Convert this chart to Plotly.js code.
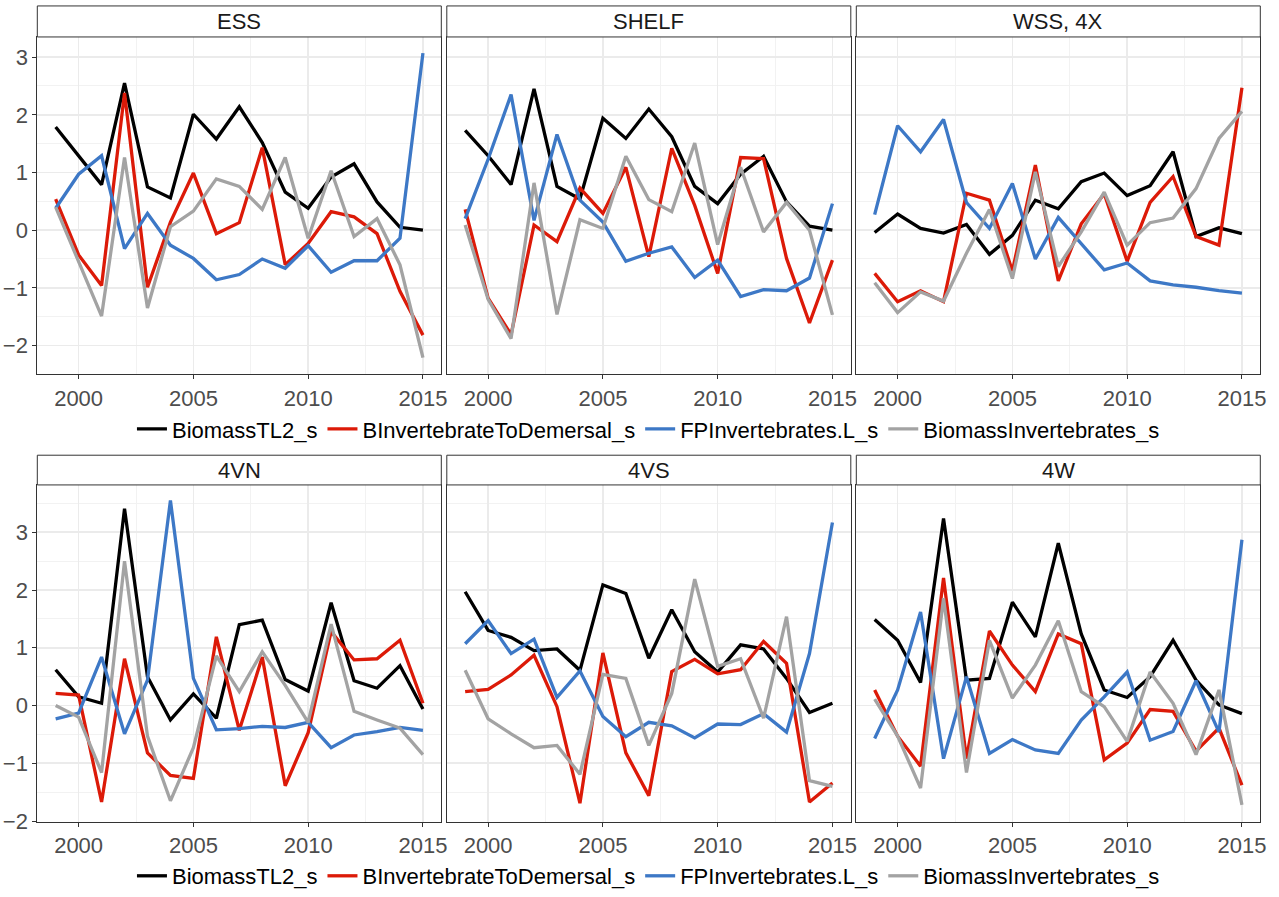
<!DOCTYPE html>
<html>
<head>
<meta charset="utf-8">
<script src="https://cdn.plot.ly/plotly-3.0.1.min.js"></script>
<style>
  html, body { margin: 0; padding: 0; background: #ffffff; }
  #chart { width: 1279px; height: 897px; }
</style>
</head>
<body>
<div id="chart"></div>
<script>
// ---------- data ----------
const years = [1999, 2000, 2001, 2002, 2003, 2004, 2005, 2006, 2007, 2008, 2009, 2010, 2011, 2012, 2013, 2014, 2015];
const seriesNames = ["BiomassTL2_s", "BInvertebrateToDemersal_s", "FPInvertebrates.L_s", "BiomassInvertebrates_s"];
const seriesColors = ["#000000", "#dc1a08", "#3d78c6", "#a3a3a3"];
const panelNames = ["ESS", "SHELF", "WSS, 4X", "4VN", "4VS", "4W"];

// ESS
const essTL2   = [1.79, 1.30, 0.79, 2.55, 0.75, 0.56, 2.01, 1.58, 2.14, 1.52, 0.66, 0.38, 0.92, 1.15, 0.49, 0.05, 0.00];
const essBInvD = [0.54, -0.43, -0.96, 2.38, -0.99, 0.14, 0.99, -0.06, 0.13, 1.43, -0.60, -0.23, 0.32, 0.23, -0.06, -1.06, -1.82];
const essFPInv = [0.38, 0.97, 1.29, -0.32, 0.29, -0.26, -0.49, -0.86, -0.77, -0.50, -0.66, -0.27, -0.73, -0.53, -0.53, -0.14, 3.07];
const essBInv  = [0.40, -0.54, -1.49, 1.26, -1.35, 0.06, 0.33, 0.89, 0.76, 0.36, 1.26, -0.14, 1.03, -0.11, 0.20, -0.60, -2.21];
// SHELF
const shelfTL2   = [1.73, 1.29, 0.79, 2.45, 0.76, 0.54, 1.94, 1.59, 2.10, 1.62, 0.76, 0.46, 0.97, 1.28, 0.49, 0.07, 0.00];
const shelfBInvD = [0.36, -1.18, -1.81, 0.09, -0.20, 0.73, 0.29, 1.09, -0.46, 1.42, 0.43, -0.75, 1.26, 1.24, -0.49, -1.61, -0.52];
const shelfFPInv = [0.20, 1.23, 2.35, 0.17, 1.66, 0.52, 0.14, -0.54, -0.40, -0.29, -0.82, -0.52, -1.15, -1.03, -1.05, -0.83, 0.46];
const shelfBInv  = [0.09, -1.20, -1.88, 0.82, -1.46, 0.18, 0.03, 1.28, 0.53, 0.32, 1.51, -0.25, 1.09, -0.03, 0.48, 0.00, -1.47];
// WSS, 4X
const wssTL2   = [-0.04, 0.28, 0.03, -0.05, 0.10, -0.42, -0.09, 0.52, 0.37, 0.84, 0.99, 0.60, 0.77, 1.36, -0.11, 0.04, -0.06];
const wssBInvD = [-0.75, -1.24, -1.05, -1.24, 0.64, 0.52, -0.71, 1.13, -0.88, 0.11, 0.63, -0.54, 0.48, 0.93, -0.11, -0.26, 2.47];
const wssFPInv = [0.27, 1.81, 1.36, 1.92, 0.48, 0.03, 0.81, -0.50, 0.22, -0.24, -0.69, -0.57, -0.88, -0.95, -0.99, -1.05, -1.09];
const wssBInv  = [-0.91, -1.43, -1.07, -1.23, -0.40, 0.36, -0.84, 1.01, -0.63, -0.03, 0.66, -0.26, 0.13, 0.21, 0.72, 1.59, 2.06];
// 4VN
const vnTL2   = [0.62, 0.15, 0.04, 3.41, 0.50, -0.25, 0.20, -0.22, 1.40, 1.48, 0.45, 0.25, 1.78, 0.43, 0.30, 0.69, -0.06];
const vnBInvD = [0.21, 0.18, -1.67, 0.81, -0.82, -1.21, -1.26, 1.19, -0.43, 0.84, -1.39, -0.47, 1.28, 0.79, 0.81, 1.13, 0.04];
const vnFPInv = [-0.23, -0.13, 0.84, -0.49, 0.44, 3.55, 0.47, -0.42, -0.40, -0.36, -0.38, -0.29, -0.73, -0.51, -0.45, -0.38, -0.43];
const vnBInv  = [0.00, -0.20, -1.16, 2.50, -0.53, -1.65, -0.73, 0.86, 0.24, 0.93, 0.35, -0.29, 1.41, -0.10, -0.25, -0.39, -0.85];
// 4VS
const vsTL2   = [1.97, 1.30, 1.18, 0.95, 0.98, 0.61, 2.09, 1.94, 0.82, 1.66, 0.93, 0.58, 1.05, 0.98, 0.47, -0.12, 0.04];
const vsBInvD = [0.24, 0.28, 0.53, 0.87, -0.02, -1.69, 0.91, -0.82, -1.56, 0.59, 0.80, 0.55, 0.62, 1.11, 0.73, -1.67, -1.34];
const vsFPInv = [1.07, 1.47, 0.90, 1.15, 0.14, 0.60, -0.19, -0.54, -0.29, -0.35, -0.56, -0.32, -0.33, -0.14, -0.46, 0.90, 3.17];
const vsBInv  = [0.61, -0.23, -0.49, -0.73, -0.69, -1.19, 0.54, 0.47, -0.69, 0.21, 2.19, 0.68, 0.81, -0.22, 1.54, -1.30, -1.40];
// 4W
const wTL2   = [1.49, 1.13, 0.40, 3.24, 0.44, 0.47, 1.79, 1.19, 2.81, 1.24, 0.27, 0.14, 0.50, 1.13, 0.44, 0.01, -0.14];
const wBInvD = [0.27, -0.53, -1.05, 2.21, -0.92, 1.29, 0.70, 0.24, 1.24, 1.07, -0.94, -0.65, -0.07, -0.10, -0.79, -0.39, -1.38];
const wFPInv = [-0.57, 0.27, 1.62, -0.92, 0.50, -0.83, -0.59, -0.77, -0.83, -0.25, 0.15, 0.58, -0.60, -0.45, 0.43, -0.46, 2.87];
const wBInv  = [0.11, -0.53, -1.43, 1.86, -1.16, 1.13, 0.13, 0.70, 1.47, 0.24, -0.02, -0.62, 0.58, 0.04, -0.85, 0.27, -1.72];

const panelData = [
  [essTL2, essBInvD, essFPInv, essBInv],
  [shelfTL2, shelfBInvD, shelfFPInv, shelfBInv],
  [wssTL2, wssBInvD, wssFPInv, wssBInv],
  [vnTL2, vnBInvD, vnFPInv, vnBInv],
  [vsTL2, vsBInvD, vsFPInv, vsBInv],
  [wTL2, wBInvD, wFPInv, wBInv]
];

// ---------- layout geometry ----------
const W = 1279, H = 897;
const colPx = [[37.3, 441.3], [446.8, 850.8], [856.3, 1260.3]];
const rowPx = [[37.3, 377.7], [489.3, 829.0]];   // plot area top/bottom in px
const stripPx = [31.3, 30.0];
const yRanges = [[-2.5, 3.35], [-2.01, 3.82]];
const FONT = "Arial, 'Liberation Sans', sans-serif";

const traces = [];
const layout = {
  width: W, height: H,
  margin: {l: 0, r: 0, t: 0, b: 0},
  paper_bgcolor: "#ffffff",
  plot_bgcolor: "#ffffff",
  font: {family: FONT, size: 22, color: "#4d4d4d"},
  shapes: [],
  annotations: [],
  legend: {
    orientation: "h", x: 0.507, xanchor: "center", y: (H - 433) / H, yanchor: "middle",
    font: {family: FONT, size: 22, color: "#000000"}, bgcolor: "rgba(0,0,0,0)",
    itemwidth: 30, tracegroupgap: 0
  },
  legend2: {
    orientation: "h", x: 0.507, xanchor: "center", y: (H - 884) / H, yanchor: "middle",
    font: {family: FONT, size: 22, color: "#000000"}, bgcolor: "rgba(0,0,0,0)",
    itemwidth: 30, tracegroupgap: 0
  },
  showlegend: true
};

panelNames.forEach((name, p) => {
  const row = Math.floor(p / 3), col = p % 3;
  const idx = p === 0 ? "" : String(p + 1);
  const xa = "xaxis" + idx, ya = "yaxis" + idx;
  const xr = "x" + idx, yr = "y" + idx;
  const plotH = rowPx[row][1] - rowPx[row][0];

  layout[xa] = {
    domain: [colPx[col][0] / W, colPx[col][1] / W],
    anchor: yr,
    range: [1998.2, 2015.8],
    tickmode: "array", tickvals: [2000, 2005, 2010, 2015],
    ticks: "outside", ticklen: 4, tickwidth: 1, tickcolor: "#333333",
    tickfont: {family: FONT, size: 22, color: "#4d4d4d"},
    showline: true, linecolor: "#333333", linewidth: 1, mirror: true,
    showgrid: true, gridcolor: "#ebebeb", gridwidth: 1.6,
    minor: {tickvals: [2002.5, 2007.5, 2012.5], showgrid: true, gridcolor: "#f2f2f2", gridwidth: 1, ticks: ""},
    zeroline: false, fixedrange: true
  };
  layout[ya] = {
    domain: [(H - rowPx[row][1]) / H, (H - rowPx[row][0]) / H],
    anchor: xr,
    range: yRanges[row],
    tickmode: "array", tickvals: [-2, -1, 0, 1, 2, 3],
    ticks: col === 0 ? "outside" : "", ticklen: 4, tickwidth: 1, tickcolor: "#333333",
    showticklabels: col === 0,
    tickfont: {family: FONT, size: 22, color: "#4d4d4d"},
    showline: true, linecolor: "#333333", linewidth: 1, mirror: true,
    showgrid: true, gridcolor: "#ebebeb", gridwidth: 1.6,
    minor: {tickvals: [-2.5, -1.5, -0.5, 0.5, 1.5, 2.5, 3.5], showgrid: true, gridcolor: "#f2f2f2", gridwidth: 1, ticks: ""},
    zeroline: false, fixedrange: true
  };

  // strip
  const stripTop = 1 + stripPx[row] / plotH;
  layout.shapes.push({
    type: "rect", xref: xr + " domain", yref: yr + " domain",
    x0: 0, x1: 1, y0: 1, y1: stripTop,
    fillcolor: "#ffffff", line: {color: "#333333", width: 1}, layer: "above"
  });
  layout.annotations.push({
    xref: xr + " domain", yref: yr + " domain",
    x: 0.5, y: 1 + stripPx[row] / 2 / plotH, xanchor: "center", yanchor: "middle",
    text: name, showarrow: false,
    font: {family: FONT, size: 22, color: "#1a1a1a"}
  });

  seriesNames.forEach((s, k) => {
    traces.push({
      type: "scatter", mode: "lines",
      x: years, y: panelData[p][k],
      xaxis: xr, yaxis: yr,
      name: s,
      line: {color: seriesColors[k], width: 3.3},
      legend: row === 0 ? "legend" : "legend2",
      showlegend: col === 0,
      hoverinfo: "x+y+name"
    });
  });
});

Plotly.newPlot("chart", traces, layout, {displayModeBar: false, staticPlot: true});
</script>
</body>
</html>
